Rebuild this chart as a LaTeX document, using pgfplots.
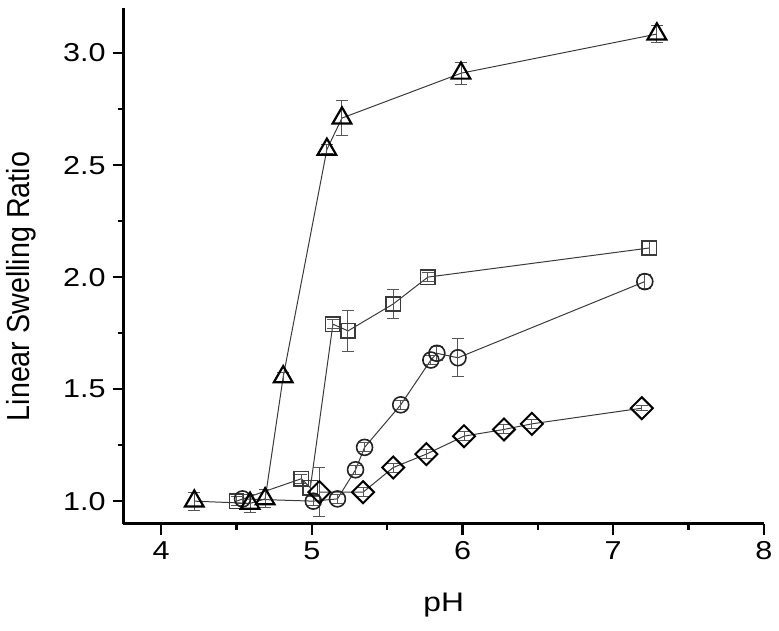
\documentclass[border=0pt]{standalone}
\usepackage{fontspec}
\setmainfont{Liberation Sans}
\newfontfamily\widesans[FakeStretch=1.18]{Liberation Sans}
\newfontfamily\narrowsans[FakeStretch=0.9]{Liberation Sans}
\usepackage{pgfplots}
\pgfplotsset{compat=1.18}
\definecolor{Ink}{HTML}{222222}
\definecolor{Link}{HTML}{3A3A3A}
\definecolor{Err}{HTML}{555555}

% x, y, error
\pgfplotstableread{
x y e
4.22 1.00 0.04
4.59 0.99 0.04
4.69 1.01 0.04
4.81 1.555 0.02
5.10 2.57 0.02
5.20 2.71 0.08
5.99 2.91 0.05
7.29 3.085 0.04
}\tri
\pgfplotstableread{
x y e
4.50 1.00 0.02
4.93 1.10 0.02
4.99 1.06 0.03
5.14 1.79 0.02
5.24 1.76 0.09
5.54 1.88 0.063
5.77 2.00 0.02
7.24 2.13 0.03
}\sq
\pgfplotstableread{
x y e
4.54 1.01 0.02
5.01 1.00 0.02
5.17 1.01 0.02
5.29 1.14 0.02
5.35 1.24 0.02
5.59 1.43 0.02
5.79 1.63 0.02
5.83 1.66 0.03
5.97 1.64 0.084
7.21 1.98 0.03
}\circ
\pgfplotstableread{
x y e
5.05 1.04 0.11
5.34 1.04 0.02
5.54 1.15 0.02
5.76 1.21 0.02
6.01 1.29 0.02
6.275 1.32 0.02
6.46 1.345 0.02
7.19 1.415 0.01
}\dia

\begin{document}
\begin{tikzpicture}
\begin{axis}[
  scale only axis,
  width=321.5pt,height=258.7pt,
  xmin=3.75,xmax=8,ymin=0.9,ymax=3.2,
  axis x line*=bottom,axis y line*=left,
  axis line style={-,line width=1.5pt,black},
  xtick={4,5,6,7,8},ytick={1,1.5,2,2.5,3},
  minor x tick num=1,minor y tick num=1,
  tick align=outside,
  major tick length=5.5pt,minor tick length=3pt,
  every tick/.style={line width=1.2pt,black},
  /pgf/number format/assume math mode=true,
  yticklabel style={/pgf/number format/.cd,fixed,fixed zerofill,precision=1},
  tick label style={font=\widesans\fontsize{13}{15}\selectfont},
  xlabel={pH},ylabel={Linear Swelling Ratio},
  xlabel style={font=\widesans\fontsize{13.5}{15}\selectfont,
    at={(axis description cs:0.5,-0.158)},anchor=center},
  ylabel style={font=\narrowsans\fontsize{16}{18}\selectfont,
    at={(axis description cs:-0.159,0.46)},anchor=center},
  clip=false,
  every axis plot/.append style={Link,line width=0.5pt},
  error bars/error bar style={Err,line width=0.5pt},
  error bars/error mark options={rotate=90,mark size=3pt,Err,line width=0.5pt},
]
\addplot[mark=square,mark size=3.6pt,mark options={solid,Link,line width=0.7pt},
  error bars/.cd,y dir=both,y explicit] table[x=x,y=y,y error=e] {\sq};
\addplot[mark=o,mark size=4pt,mark options={solid,Ink,line width=0.8pt},
  error bars/.cd,y dir=both,y explicit] table[x=x,y=y,y error=e] {\circ};
\addplot[mark=square,mark size=3.9pt,mark options={solid,black,line width=1pt,rotate=45},
  error bars/.cd,y dir=both,y explicit] table[x=x,y=y,y error=e] {\dia};
\addplot[mark=triangle,mark size=5.4pt,mark options={solid,black,line width=1.1pt},
  error bars/.cd,y dir=both,y explicit] table[x=x,y=y,y error=e] {\tri};
\end{axis}
\path (current axis.south west) ++(-62pt,-53.65pt) rectangle ++(389.5pt,316.5pt);
\end{tikzpicture}
\end{document}
